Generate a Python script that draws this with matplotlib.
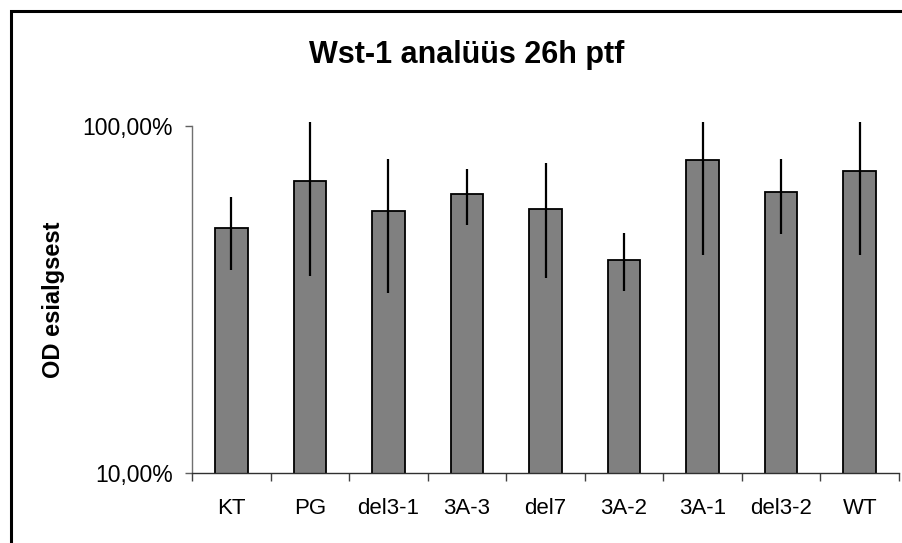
import numpy as np
import matplotlib.pyplot as plt
from matplotlib.patches import Rectangle
from matplotlib.ticker import FixedLocator, FuncFormatter, NullLocator

plt.rcParams['font.family'] = ['Liberation Sans', 'DejaVu Sans']

# data (fractions, log axis)
samples = ['KT', 'PG', 'del3-1', '3A-3', 'del7', '3A-2', '3A-1', 'del3-2', 'WT']
od = [0.509, 0.696, 0.570, 0.637, 0.578, 0.411, 0.798, 0.647, 0.742]
err_hi = [0.623, 1.027, 0.802, 0.752, 0.782, 0.492, 1.027, 0.802, 1.027]   # top end of error line (clipped at top)
err_lo = [0.385, 0.370, 0.331, 0.520, 0.365, 0.334, 0.425, 0.487, 0.425]

fig = plt.figure(figsize=(9.03, 5.43), dpi=100)
ax = fig.add_axes([0.2126, 0.1289, 0.7830, 0.6391])

x = np.arange(len(samples))
od = np.array(od)
yerr = np.array([od - np.array(err_lo), np.array(err_hi) - od])
ax.bar(x, od, width=0.415, color='#808080', edgecolor='black', linewidth=1.3, zorder=2)
eb = ax.errorbar(x, od, yerr=yerr, fmt='none', ecolor='black', elinewidth=1.6, capsize=0, zorder=3)
for c in eb.lines[2]:
    c.set_clip_on(False)

ax.set_yscale('log')
ax.set_ylim(0.1, 1.0)
ax.set_xlim(-0.5, len(samples) - 0.5)
ax.yaxis.set_major_locator(FixedLocator([0.1, 1.0]))
ax.yaxis.set_minor_locator(NullLocator())
ax.yaxis.set_major_formatter(FuncFormatter(lambda v, p: ('%.2f%%' % (v * 100)).replace('.', ',')))
ax.set_xticks(x)
ax.set_xticklabels(samples)
ax.set_xticks(np.arange(-0.5, len(samples)), minor=True)
ax.tick_params(axis='x', which='major', length=0, pad=18, labelsize=16)
ax.tick_params(axis='x', which='minor', length=5.5, direction='out', color='#404040', width=1)
ax.tick_params(axis='y', length=5, direction='out', color='#606060', width=1, labelsize=16.5, pad=9)

for s in ['top', 'right']:
    ax.spines[s].set_visible(False)
ax.spines['left'].set_color('#707070')
ax.spines['bottom'].set_color('#303030')
ax.spines['left'].set_linewidth(1)
ax.spines['bottom'].set_linewidth(1)

fig.text(0.0593, 0.4484, 'OD esialgsest', rotation=90, ha='center', va='center',
         fontsize=17, fontweight='bold')
fig.text(0.5166, 0.8834, 'Wst-1 analüüs 26h ptf', ha='center', va='baseline',
         fontsize=22, fontweight='bold')

# outer chart frame (right and bottom edges run off the image)
fig.patches.append(Rectangle((0.0127, -0.2), 1.2, 1.1797, transform=fig.transFigure,
                             fill=False, edgecolor='black', linewidth=2.2))

fig.savefig('out.png', dpi=100)
